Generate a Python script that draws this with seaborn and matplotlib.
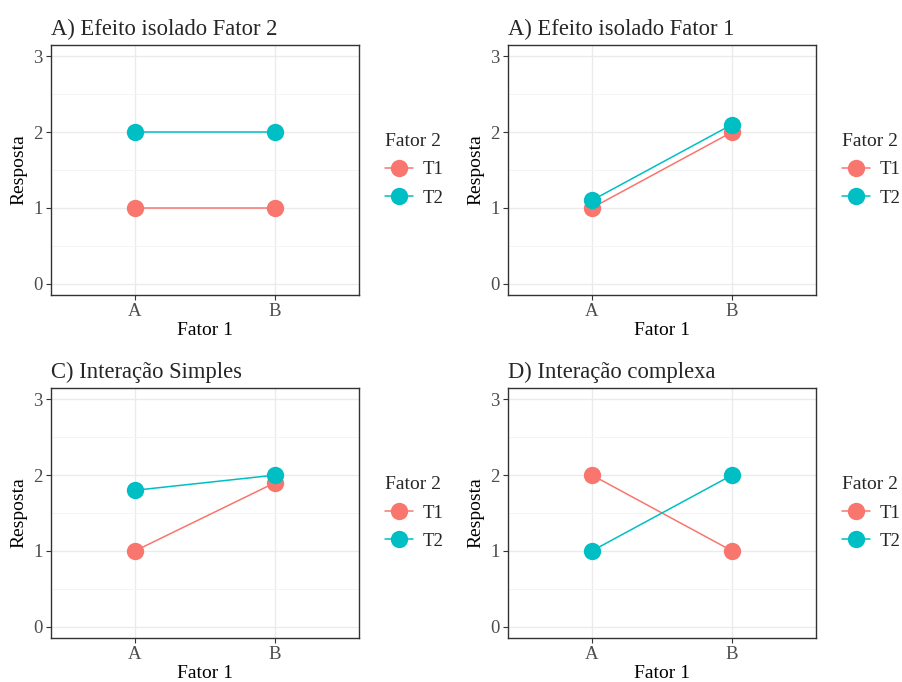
import matplotlib
matplotlib.use("Agg")
import matplotlib.pyplot as plt
from matplotlib.lines import Line2D
import seaborn as sns
import pandas as pd

# ---- data ----
fator1 = ["A", "B"]
fator2 = ["T1", "T2"]
titles = ["A) Efeito isolado Fator 2", "A) Efeito isolado Fator 1",
          "C) Interação Simples", "D) Interação complexa"]
t1_values = [[1, 1], [1, 2], [1, 1.9], [2, 1]]
t2_values = [[2, 2], [1.1, 2.1], [1.8, 2], [1, 2]]
y_ticks = [0, 1, 2, 3]

colors = {"T1": "#F8766D", "T2": "#00BFC4"}

sns.set_theme(style="white")
plt.rcParams["font.family"] = ["Liberation Serif", "DejaVu Serif"]

fig = plt.figure(figsize=(9.02, 6.82), dpi=100)
W, H = 902, 682
positions = [(51, 45), (508, 45), (51, 388), (508, 388)]
pw, ph = 308, 250

for i, (px, py) in enumerate(positions):
    ax = fig.add_axes([px / W, 1 - (py + ph) / H, pw / W, ph / H])
    df = pd.DataFrame({
        "Fator 1": fator1 * 2,
        "Resposta": t1_values[i] + t2_values[i],
        "Fator 2": [fator2[0]] * 2 + [fator2[1]] * 2,
    })
    sns.lineplot(data=df, x="Fator 1", y="Resposta", hue="Fator 2",
                 palette=colors, marker="o", markersize=12.5,
                 markeredgewidth=0, linewidth=1.1, ax=ax, legend=False,
                 zorder=3)
    ax.set_xlim(-0.6, 1.6)
    ax.set_ylim(-0.15, 3.15)
    ax.set_yticks(y_ticks)
    ax.set_yticks([0.5, 1.5, 2.5], minor=True)
    ax.grid(True, which="major", color="#EBEBEB", linewidth=1.0, zorder=0)
    ax.grid(True, which="minor", axis="y", color="#F3F3F3", linewidth=0.6, zorder=0)
    ax.set_axisbelow(True)
    for s in ax.spines.values():
        s.set_color("#333333")
        s.set_linewidth(1.0)
    ax.tick_params(axis="both", which="major", direction="out", length=3.5,
                   width=0.8, color="#333333", labelcolor="#4D4D4D",
                   labelsize=13.5, pad=2.5, bottom=True, left=True)
    ax.tick_params(axis="both", which="minor", length=0)
    ax.set_xlabel("Fator 1", fontsize=14, color="black", labelpad=1.5)
    ax.set_ylabel("Resposta", fontsize=14, color="black", labelpad=4)
    ax.set_title(titles[i], loc="left", fontsize=16.3, pad=7)

    handles = [Line2D([], [], color=colors[t], marker="o", markersize=12.5,
                      markeredgewidth=0, linewidth=1.1) for t in fator2]
    leg = ax.legend(handles, fator2, title="Fator 2", loc="center left",
                    bbox_to_anchor=(1.03, 0.5), frameon=False, fontsize=13.5,
                    title_fontsize=14, handlelength=1.5, handletextpad=0.5,
                    labelspacing=0.6)
    leg._legend_box.align = "left"

fig.savefig("out.png", dpi=100, facecolor="white")
